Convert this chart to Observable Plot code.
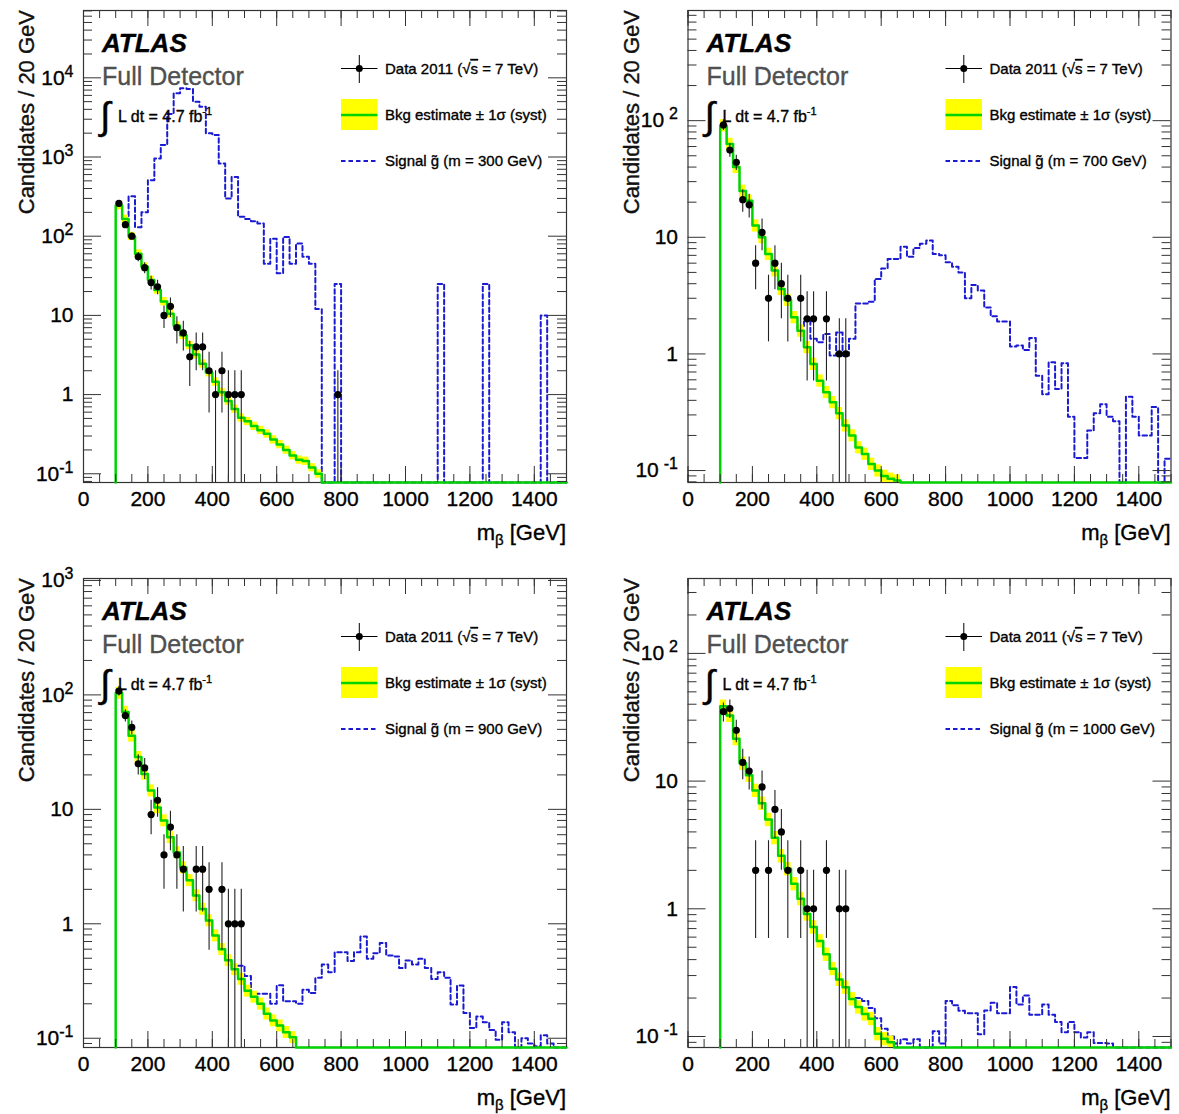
<!DOCTYPE html>
<html>
<head>
<meta charset="utf-8">
<script src="https://cdn.jsdelivr.net/npm/d3@7"></script>
<script src="https://cdn.jsdelivr.net/npm/@observablehq/plot@0.6"></script>
<style>
  html, body { margin: 0; padding: 0; background: #fff; }
  #root { position: relative; width: 1179px; height: 1114px; overflow: hidden; background: #fff; }
  #root svg { position: absolute; }
  .heavy text { paint-order: stroke; stroke: currentColor; stroke-width: 0.35px; }
</style>
</head>
<body>
<div id="root"></div>
<script>
// ---------------- DATA ----------------
const BIN0 = 100;      // first bin low edge (GeV)
const BINW = 20;       // bin width (GeV)
const XMAX = 1500;
const xTickLabels = [0, 200, 400, 600, 800, 1000, 1200, 1400];
const signalMasses = [300, 700, 900, 1000];

// Background estimate per 20 GeV bin, starting at 100 GeV
const bkg300 = [245, 165, 100, 60, 41, 28, 21, 15, 10.5, 7.4, 5.6, 4.2, 3.2, 2.45, 1.9, 1.45, 1.07, 0.83, 0.66, 0.51,
  0.46, 0.40, 0.355, 0.32, 0.27, 0.235, 0.2, 0.17, 0.15, 0.145, 0.12, 0.1];
const bkg700 = [91, 63, 40, 25, 20.6, 12.6, 10, 7.2, 5.2, 3.6, 2.9, 2.06, 1.58, 1.14, 0.82, 0.59, 0.47, 0.385, 0.31, 0.243,
  0.2, 0.158, 0.139, 0.114, 0.1, 0.09, 0.085, 0.082];
const bkg900 = [104, 71, 44, 28.6, 20.4, 14.6, 10.4, 8.0, 5.7, 4.2, 3.1, 2.4, 1.77, 1.35, 1.07, 0.79, 0.6, 0.48, 0.40, 0.33,
  0.26, 0.23, 0.2, 0.164, 0.143, 0.129, 0.113, 0.102];
const bkg1000 = [38.5, 32.7, 21.5, 13.8, 11.1, 8.45, 6.7, 5.0, 3.6, 2.6, 2.06, 1.57, 1.2, 0.91, 0.72, 0.56, 0.44, 0.34, 0.28, 0.243,
  0.197, 0.17, 0.15, 0.138, 0.105, 0.096, 0.09];
const bkgSyst = [0.12, 0.12, 0.12, 0.12];   // relative half-width of the yellow band

// Signal histograms (20 GeV bins); first visible bin low edge given separately
const sigStart = [120, 340, 480, 520];
const sig300 = [175, 320, 130, 200, 510, 960, 1420, 3500, 6400, 7400, 7200, 5000, 4300, 2000, 1900, 830, 300, 560, 176, 165,
  155, 145, 45, 93, 34, 98, 45, 81, 55, 45, 12, 0, 0, 25,
  0, 0, 0, 0, 0, 0, 0, 0, 0, 0, 0, 0, 0, 0, 0, 25, 0, 0, 0, 0, 0, 0, 25, 0, 0, 0, 0, 0, 0, 0, 0, 10, 0, 0, 0];
const sig700 = [1.7, 2.0, 1.35, 1.26, 1.48, 0.97, 1.53, 0.97, 1.35, 2.7, 2.7, 2.8, 4.4, 5.4, 6.5, 6.5, 8.3, 6.8, 8.1, 8.8,
  9.4, 7.2, 7.0, 6.1, 5.6, 5.0, 3.0, 3.9, 3.5, 2.5, 2.1, 1.9, 1.9, 1.16, 1.18, 1.08, 1.37, 0.65, 0.45, 0.85,
  0.5, 0.83, 0.29, 0.128, 0.128, 0.22, 0.31, 0.37, 0.29, 0.265, 0, 0.43, 0.29, 0.2, 0.2, 0.35, 0, 0.126];
const sig900 = [0.43, 0.35, 0.245, 0.245, 0.245, 0.2, 0.29, 0.21, 0.21, 0.2, 0.265, 0.248, 0.337, 0.44, 0.378, 0.565, 0.565,
  0.472, 0.565, 0.775, 0.494, 0.554, 0.678, 0.529, 0.518, 0.41, 0.479, 0.44, 0.494, 0.41, 0.33, 0.378, 0.337, 0.197,
  0.289, 0.166, 0.123, 0.155, 0.138, 0.118, 0.097, 0.138, 0.113, 0, 0.1, 0.09, 0.085, 0.106, 0.09, 0, 0];
const sig1000 = [0.2, 0.19, 0.167, 0.139, 0.115, 0.1, 0.088, 0.095, 0.088, 0.095, 0, 0, 0.11, 0.088, 0.19, 0.176, 0.159,
  0.152, 0.152, 0.104, 0.16, 0.184, 0.152, 0.152, 0.244, 0.178, 0.209, 0.148, 0.148, 0.178, 0.148, 0.13, 0.108, 0.13,
  0.108, 0.098, 0.108, 0.089, 0.089, 0.088, 0, 0, 0, 0, 0, 0, 0, 0, 0];

// Data 2011: bin centres (GeV) and counts
const dataX300 = [110, 130, 150, 170, 190, 210, 230, 250, 270, 290, 310, 330, 350, 370, 390, 410, 430, 450, 470, 490, 790];
const dataN300 = [260, 140, 100, 55, 40, 26, 23, 10, 13, 7, 6, 3, 4, 4, 2, 1, 2, 1, 1, 1, 1];
const dataX700 = [110, 130, 150, 170, 190, 210, 230, 250, 270, 290, 310, 350, 370, 390, 430, 470, 490];
const dataN700 = [92, 56, 44, 21, 19, 6, 11, 3, 6, 4, 3, 3, 2, 2, 2, 1, 1];
const dataX900 = [110, 130, 150, 170, 190, 210, 230, 250, 270, 290, 310, 350, 370, 390, 430, 450, 470, 490];
const dataN900 = [108, 66, 52, 25, 23, 9, 12, 4, 7, 4, 3, 3, 3, 2, 2, 1, 1, 1];
const dataX1000 = [110, 130, 150, 170, 190, 210, 230, 250, 270, 290, 310, 350, 370, 390, 430, 470, 490];
const dataN1000 = [35, 37, 25, 14, 12, 2, 9, 2, 6, 4, 2, 2, 1, 1, 2, 1, 1];

// y-axis ranges of each panel
const yDomains = [[0.0776, 70800], [0.079, 880], [0.083, 1040], [0.082, 386]];

// ---------------- STYLE / LAYOUT ----------------
const FONT = '"Liberation Sans", Arial, Helvetica, sans-serif';
const BLUE = "#1a1ad2", GREEN = "#00d400", YELLOW = "#ffff00", FRAME = "#333";
const FLOOR = 1e-4;

const layout = [
  {left: 0,   top: 0,   width: 590, height: 560, fx: 83,    fy: 10,  fw: 483, fh: 472, expGap: 0},
  {left: 600, top: 0,   width: 579, height: 560, fx: 687.5, fy: 10,  fw: 483, fh: 472, expGap: 5},
  {left: 0,   top: 568, width: 590, height: 546, fx: 83,    fy: 578, fw: 483, fh: 469, expGap: 0},
  {left: 600, top: 568, width: 579, height: 546, fx: 687.5, fy: 578, fw: 483, fh: 469, expGap: 5}
];
const bkgs = [bkg300, bkg700, bkg900, bkg1000];
const sigs = [sig300, sig700, sig900, sig1000];
const dXs = [dataX300, dataX700, dataX900, dataX1000];
const dNs = [dataN300, dataN700, dataN900, dataN1000];

const xMajor = d3.range(0, XMAX + 1, 200);
const xMinor = d3.range(0, XMAX + 1, 50);

const root = document.getElementById("root");

function fmtExp(d) {
  const k = Math.round(Math.log10(d));
  return k === 0 ? "1" : k === 1 ? "10" : "10^" + k;
}

layout.forEach((p, idx) => {
  const [y0, y1] = yDomains[idx];
  const decades = d3.range(-3, 7).map(k => Math.pow(10, k));
  const yMajor = decades.filter(v => v >= y0 && v <= y1);
  const yMinor = [];
  decades.forEach(d => { for (let m = 2; m <= 9; m++) { const v = m * d; if (v >= y0 && v <= y1) yMinor.push(v); } });

  const bkg = bkgs[idx], sig = sigs[idx], syst = bkgSyst[idx];
  const bkgLine = [{x: BIN0, y: FLOOR}]
    .concat(bkg.map((v, i) => ({x: BIN0 + BINW * i, y: v})))
    .concat([{x: BIN0 + BINW * bkg.length, y: FLOOR}, {x: XMAX, y: FLOOR}]);
  const band = bkg.map((v, i) => ({x1: BIN0 + BINW * i, x2: BIN0 + BINW * (i + 1), y1: v * (1 - syst), y2: v * (1 + syst)}));
  const sigLine = sig.map((v, i) => ({x: sigStart[idx] + BINW * i, y: v > 0 ? v : FLOOR}));
  sigLine.push({x: sigStart[idx] + BINW * sig.length, y: sigLine[sigLine.length - 1].y});
  const pts = dXs[idx].map((x, i) => {
    const n = dNs[idx][i];
    return {x, n, lo: Math.max(n - Math.sqrt(n), FLOOR), hi: n + Math.sqrt(n)};
  });

  const mL = p.fx - p.left, mT = p.fy - p.top;
  const mR = p.left + p.width - (p.fx + p.fw), mB = p.top + p.height - (p.fy + p.fh);

  const chart = Plot.plot({
    width: p.width, height: p.height,
    marginLeft: mL, marginRight: mR, marginTop: mT, marginBottom: mB,
    style: {fontFamily: FONT, fontSize: "21px", color: "#000", background: "transparent", overflow: "visible"},
    x: {domain: [0, XMAX]},
    y: {type: "log", domain: [y0, y1], clamp: true},
    marks: [
      Plot.frame({stroke: FRAME, strokeWidth: 1.2}),
      Plot.line(sigLine, {x: "x", y: "y", curve: "step-after", stroke: BLUE, strokeWidth: 2, strokeDasharray: "4.5,3"}),
      Plot.rect(band, {x1: "x1", x2: "x2", y1: "y1", y2: "y2", fill: YELLOW}),
      Plot.line(bkgLine, {x: "x", y: "y", curve: "step-after", stroke: GREEN, strokeWidth: 2.5}),
      Plot.ruleX(pts, {x: "x", y1: "lo", y2: "hi", stroke: "#222", strokeWidth: 1.1}),
      Plot.dot(pts, {x: "x", y: "n", r: 3.6, fill: "#000", stroke: "none"}),
      Plot.tickX(xMinor, {x: d => d, insetTop: p.fh - 8, stroke: FRAME}),
      Plot.tickX(xMinor, {x: d => d, insetBottom: p.fh - 8, stroke: FRAME}),
      Plot.tickX(xMajor, {x: d => d, insetTop: p.fh - 16, stroke: FRAME}),
      Plot.tickX(xMajor, {x: d => d, insetBottom: p.fh - 16, stroke: FRAME}),
      Plot.tickY(yMinor, {y: d => d, insetRight: p.fw - 9, stroke: FRAME}),
      Plot.tickY(yMinor, {y: d => d, insetLeft: p.fw - 9, stroke: FRAME}),
      Plot.tickY(yMajor, {y: d => d, insetRight: p.fw - 18, stroke: FRAME}),
      Plot.tickY(yMajor, {y: d => d, insetLeft: p.fw - 18, stroke: FRAME}),
      Plot.axisX({ticks: xTickLabels, tickSize: 0, tickPadding: 9, tickFormat: d => String(d), label: null}),
      Plot.axisY({ticks: yMajor, tickSize: 0, tickPadding: 10, tickFormat: fmtExp, label: null})
    ]
  });
  chart.style.left = p.left + "px";
  chart.style.top = p.top + "px";
  chart.classList.add("heavy");

  // superscript exponents on the log-axis labels
  d3.select(chart).selectAll('[aria-label="y-axis tick label"] text').each(function () {
    const s = this.textContent;
    if (s.includes("^")) {
      const [b, e] = s.split("^");
      const t = d3.select(this);
      t.text(null);
      t.append("tspan").text(b);
      t.append("tspan").attr("dy", "-0.5em").attr("dx", p.expGap).attr("font-size", "16px").text(e);
    }
  });
  root.appendChild(chart);
});

// ---------------- ANNOTATIONS / LEGENDS / AXIS TITLES ----------------
const ov = d3.select(root).append("svg")
  .attr("width", 1179).attr("height", 1114)
  .attr("class", "heavy")
  .style("left", "0px").style("top", "0px")
  .style("font-family", FONT).style("pointer-events", "none").style("color", "#000");

layout.forEach((p, idx) => {
  const g = ov.append("g").attr("transform", `translate(${p.fx},${p.fy})`);
  g.append("text").attr("x", 19).attr("y", 42).attr("font-size", 26).attr("font-weight", "bold")
    .attr("font-style", "italic").text("ATLAS");
  g.append("text").attr("x", 19).attr("y", 75).attr("font-size", 25).attr("fill", "#505050")
    .style("stroke", "#505050").text("Full Detector");
  g.append("text").attr("x", 17).attr("y", 119).attr("font-size", 38).text("\u222B");
  const lum = g.append("text").attr("x", 35).attr("y", 112).attr("font-size", 16);
  lum.append("tspan").text("L dt = 4.7 fb");
  lum.append("tspan").attr("dy", -7).attr("font-size", 11).text("-1");

  // legend
  g.append("line").attr("x1", 258).attr("x2", 294.5).attr("y1", 58.5).attr("y2", 58.5).attr("stroke", "#000");
  g.append("line").attr("x1", 276.3).attr("x2", 276.3).attr("y1", 45).attr("y2", 73).attr("stroke", "#000");
  g.append("circle").attr("cx", 276.3).attr("cy", 58.5).attr("r", 3.5).attr("fill", "#000");
  const t1 = g.append("text").attr("x", 302).attr("y", 64).attr("font-size", 15);
  t1.append("tspan").text("Data 2011 (\u221A");
  t1.append("tspan").style("text-decoration", "overline").text("s");
  t1.append("tspan").text(" = 7 TeV)");

  g.append("rect").attr("x", 258).attr("y", 89).attr("width", 36.5).attr("height", 31).attr("fill", YELLOW);
  g.append("line").attr("x1", 258).attr("x2", 294.5).attr("y1", 105).attr("y2", 105).attr("stroke", GREEN).attr("stroke-width", 2.5);
  g.append("text").attr("x", 302).attr("y", 110).attr("font-size", 15).text("Bkg estimate \u00B1 1\u03C3 (syst)");

  g.append("line").attr("x1", 258).attr("x2", 294.5).attr("y1", 151).attr("y2", 151).attr("stroke", BLUE)
    .attr("stroke-width", 2).attr("stroke-dasharray", "4.5,3");
  g.append("text").attr("x", 302).attr("y", 156).attr("font-size", 15)
    .text(`Signal g\u0303 (m = ${signalMasses[idx]} GeV)`);

  // x-axis title
  const xl = g.append("text").attr("x", p.fw).attr("y", p.fh + 58).attr("font-size", 22).attr("text-anchor", "end");
  xl.append("tspan").text("m");
  xl.append("tspan").attr("dy", 5).attr("font-size", 15).text("\u03B2");
  xl.append("tspan").attr("dy", -5).text(" [GeV]");

  // y-axis title
  g.append("text").attr("transform", "translate(-49,0) rotate(-90)").attr("text-anchor", "end")
    .attr("font-size", 22).attr("fill", "#111").text("Candidates / 20 GeV");
});
</script>
</body>
</html>
